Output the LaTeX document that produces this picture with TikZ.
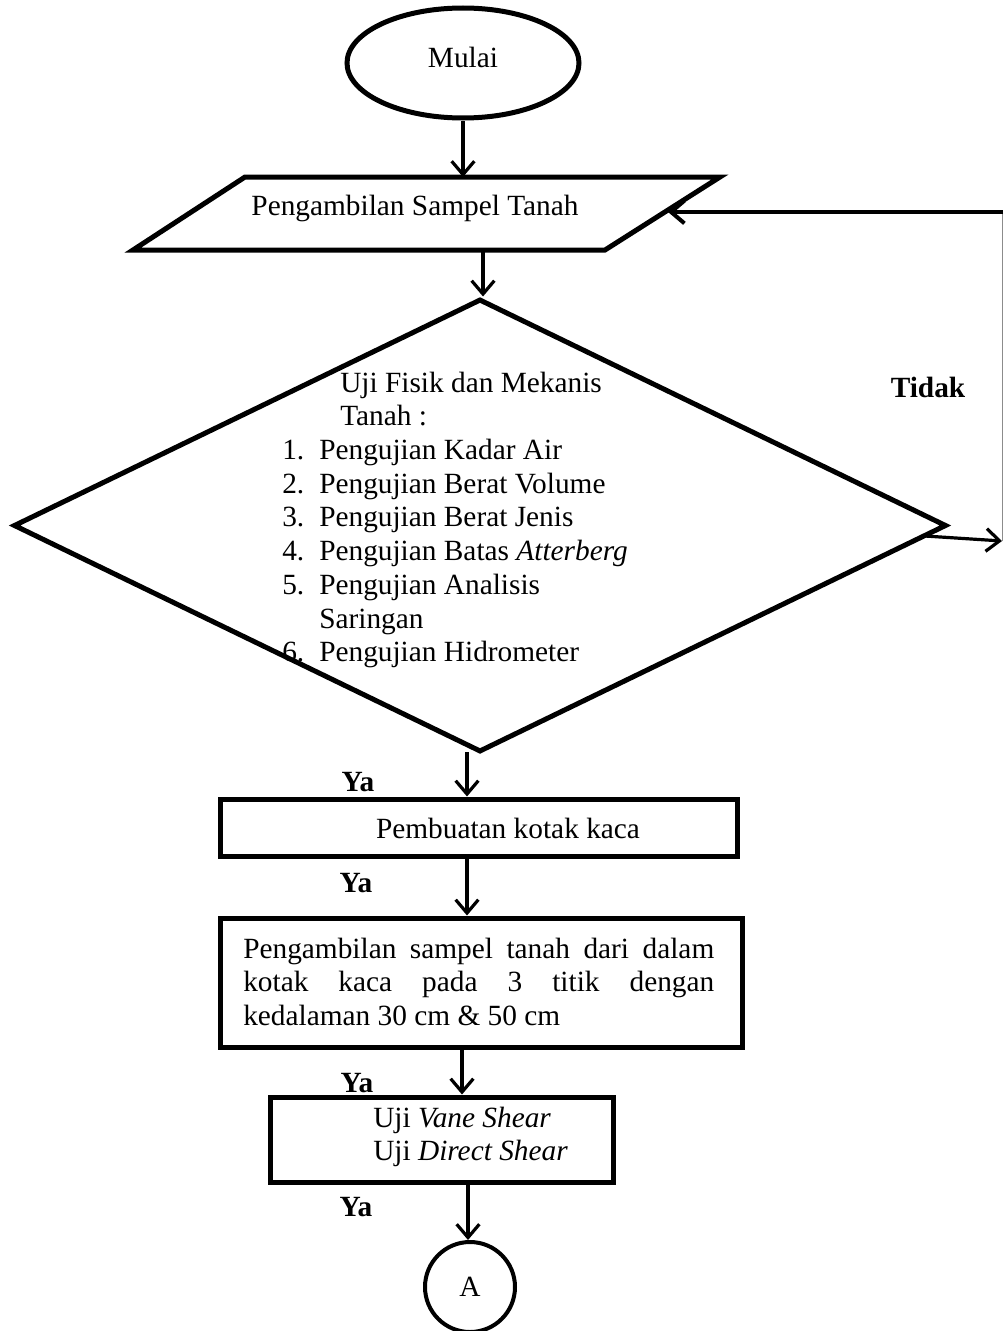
\documentclass[tikz,border=0pt]{standalone}
\usepackage{fontspec}
\setmainfont{Liberation Serif}
\usetikzlibrary{arrows.meta,shapes.geometric}
\begin{document}
\begin{tikzpicture}[x=0.75pt,y=-0.75pt,
  shapeline/.style={draw=black, line width=3.75pt},
  conn/.style={line width=2.4pt, -{Straight Barb[length=10pt,width=17pt]}},
  txt/.style={font=\fontsize{22}{25.3}\selectfont, inner sep=0pt},
  boldtxt/.style={font=\fontsize{22}{25.3}\selectfont\bfseries, inner sep=0pt},
]
\useasboundingbox (0,0) rectangle (1003,1331);

% start
\node[shapeline, ellipse, minimum width=174pt, minimum height=82.5pt, inner sep=0pt,
      font=\fontsize{22}{25.3}\selectfont, text depth=9pt] (start) at (463,63) {Mulai};

% parallelogram
\draw[shapeline] (245,177) -- (720,177) -- (605,250) -- (133,250) -- cycle;
\node[txt] (samp) at (415,208) {Pengambilan Sampel Tanah};
\coordinate (sampT) at (463,177);
\coordinate (sampB) at (483,250);
\coordinate (sampR) at (668,212);

% decision
\node[shapeline, diamond, minimum width=699.75pt, minimum height=339.75pt, inner sep=0pt] (dec) at (480,525.5) {};
\node[txt, anchor=base west] (dtext) at (282,392) {\begin{tabular}[t]{@{}l@{}}
\hspace*{43.5pt}Uji Fisik dan Mekanis\\
\hspace*{43.5pt}Tanah :\\
\makebox[27.75pt][l]{1.}Pengujian Kadar Air\\
\makebox[27.75pt][l]{2.}Pengujian Berat Volume\\
\makebox[27.75pt][l]{3.}Pengujian Berat Jenis\\
\makebox[27.75pt][l]{4.}Pengujian Batas \textit{Atterberg}\\
\makebox[27.75pt][l]{5.}Pengujian Analisis\\
\hspace*{27.75pt}Saringan\\
\makebox[27.75pt][l]{6.}Pengujian Hidrometer
\end{tabular}};

% loop back (Tidak)
\coordinate (dR) at (925,536);
\coordinate (eR) at (1002,541);
\coordinate (eT) at (1003,212);
\coordinate (eV) at (1002,212);
\draw[conn] (dR) -- (eR);
\draw[line width=0.75pt, black!45] (eR) -- (eV);
\draw[conn, line width=3pt] (eT) -- (sampR);
\node[boldtxt] (tidak) at (928,387) {Tidak};

% box 2
\node[shapeline, minimum width=387.75pt, minimum height=42.75pt, inner sep=0pt] (kaca) at (478.5,827.5) {};
\node[txt] (kacat) at (508,828) {Pembuatan kotak kaca};

% box 3
\node[shapeline, minimum width=391.5pt, minimum height=96.75pt, inner sep=0pt] (kedal) at (481,982.5) {};
\node[txt, anchor=base west] (kedalt) at (243,958) {\begin{tabular}[t]{@{}l@{}}
\makebox[353.25pt][s]{Pengambilan sampel tanah dari dalam}\\
\makebox[353.25pt][s]{kotak kaca pada 3 titik dengan}\\
kedalaman 30 cm \& 50 cm
\end{tabular}};

% box 4
\node[shapeline, minimum width=257.25pt, minimum height=63.75pt, inner sep=0pt] (vane) at (441.5,1139.5) {};
\node[txt, anchor=base west] (vanet) at (373,1127) {\begin{tabular}[t]{@{}l@{}}
Uji \textit{Vane Shear}\\
Uji \textit{Direct Shear}
\end{tabular}};

% connector A
\node[draw=black, line width=3pt, circle, minimum size=67.5pt, inner sep=0pt,
      font=\fontsize{22}{25.3}\selectfont] (A) at (470,1287) {A};

% Ya labels
\node[boldtxt] (ya1) at (358,782) {Ya};
\node[boldtxt] (ya2) at (356,883) {Ya};
\node[boldtxt] (ya3) at (357,1083) {Ya};
\node[boldtxt] (ya4) at (356,1207) {Ya};

% vertical connectors
\coordinate (x3) at (467,752);
\coordinate (x5) at (462,0);
\coordinate (x6) at (468,0);
\draw[conn] (start.south) -- (start.south |- sampT);
\draw[conn] (sampB) -- (sampB |- dec.north);
\draw[conn] (x3) -- (x3 |- kaca.north);
\draw[conn] (kaca.south -| x3) -- (kedal.north -| x3);
\draw[conn] (kedal.south -| x5) -- (vane.north -| x5);
\draw[conn] (vane.south -| x6) -- (A.north -| x6);
\end{tikzpicture}
\end{document}
